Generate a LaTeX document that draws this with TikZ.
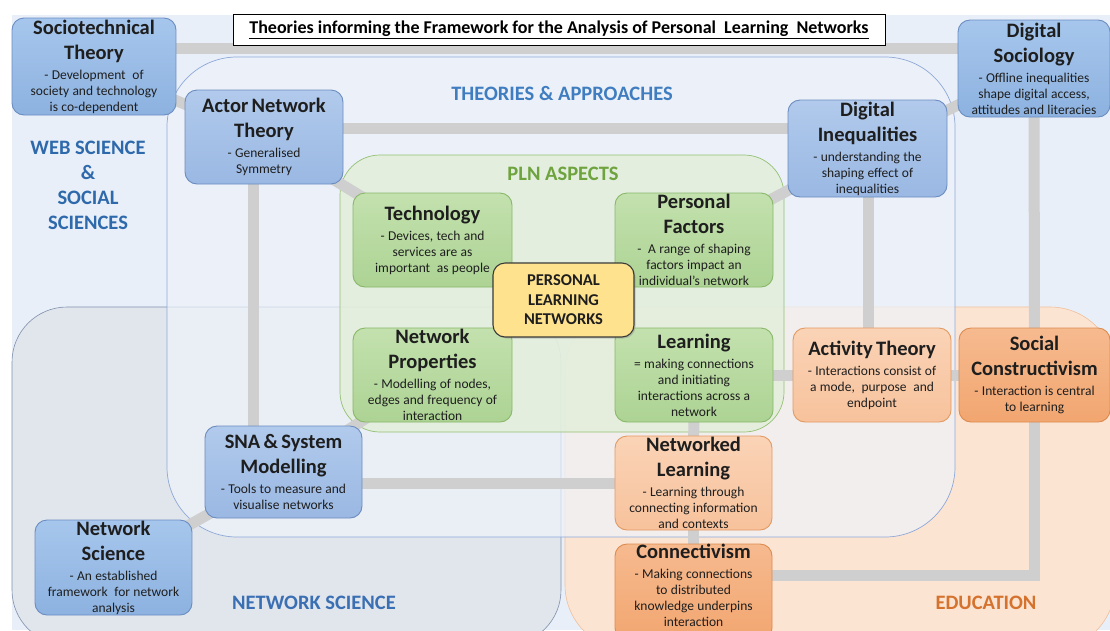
\documentclass[tikz,border=0pt]{standalone}
\usepackage{fontspec}
\setmainfont{Carlito}
\usetikzlibrary{fit,shadows}
\setlength{\parindent}{0pt}
\definecolor{webbg}{HTML}{E8EFF8}
\definecolor{nsfill}{HTML}{E1E5EC}
\definecolor{nsdraw}{HTML}{8090AC}
\definecolor{edufill}{HTML}{FCE4D3}
\definecolor{edudraw}{HTML}{F0C09C}
\definecolor{theofill}{HTML}{EEF3FA}
\definecolor{theodraw}{HTML}{8EA8D8}
\definecolor{plnrfill}{HTML}{E1EED7}
\definecolor{plnrdraw}{HTML}{93C073}
\definecolor{blueatop}{HTML}{A6C6EC}
\definecolor{blueabot}{HTML}{8DB2E0}
\definecolor{blueadraw}{HTML}{6A8DC2}
\definecolor{bluebtop}{HTML}{B1CAEC}
\definecolor{bluebbot}{HTML}{9AB8E3}
\definecolor{bluebdraw}{HTML}{6C8CC0}
\definecolor{greentop}{HTML}{C3E1AE}
\definecolor{greenbot}{HTML}{ADD394}
\definecolor{greendraw}{HTML}{88B868}
\definecolor{oratop}{HTML}{FAD3B6}
\definecolor{orabot}{HTML}{F7C29C}
\definecolor{oradraw}{HTML}{E39A62}
\definecolor{orbtop}{HTML}{F6BA8F}
\definecolor{orbbot}{HTML}{F2A670}
\definecolor{orbdraw}{HTML}{DB8B50}
\definecolor{plnfill}{HTML}{FFE28D}
\definecolor{plndraw}{HTML}{3A3A3A}
\definecolor{theolbl}{HTML}{3F7DC0}
\definecolor{plnlbl}{HTML}{6EA33E}
\definecolor{weblbl}{HTML}{2E69AC}
\definecolor{nslbl}{HTML}{3A6FB3}
\definecolor{edulbl}{HTML}{D4722E}
\definecolor{linkgray}{HTML}{CFCFCF}
\definecolor{textc}{HTML}{1E1E1E}
\newcommand\NT[1]{{\fontsize{20.5}{25}\selectfont\bfseries #1\par}}
\newcommand\NB[1]{{\fontsize{13.5}{16}\selectfont #1\par}}
\newcommand\NF[1]{{\fontsize{13.5}{20}\selectfont #1\par}}
\pgfdeclarelayer{regions}
\pgfdeclarelayer{links}
\pgfsetlayers{regions,links,main}
\begin{document}
\begin{tikzpicture}[x=1pt,y=-1pt,
  box/.style={rectangle, rounded corners=12pt, line width=0.9pt, inner sep=0pt},
  bluea/.style={box, draw=blueadraw, top color=blueatop, bottom color=blueabot},
  blueb/.style={box, draw=bluebdraw, top color=bluebtop, bottom color=bluebbot},
  greenbox/.style={box, draw=greendraw, top color=greentop, bottom color=greenbot},
  oralight/.style={box, draw=oradraw, top color=oratop, bottom color=orabot},
  oradark/.style={box, draw=orbdraw, top color=orbtop, bottom color=orbbot},
  plnbox/.style={box, draw=plndraw, fill=plnfill, line width=1.1pt,
    drop shadow={shadow xshift=1.5pt, shadow yshift=-1.5pt, opacity=0.35}},
  txt/.style={text width=170pt, align=center, inner sep=0pt, text=textc},
  link/.style={line width=11pt, draw=linkgray},
  lbl/.style={font=\fontsize{20.5}{25}\selectfont\bfseries, align=center, inner sep=0pt},
  ]
\useasboundingbox (0,0) rectangle (1110,630);

% ---------- nodes ----------
\node[bluea, fit={(12,18) (176,115)}] (soc) {};
\node[txt] (soct) at (soc.center) {\NT{Sociotechnical}\NT{Theory}\NF{- Development\ \ of}\NB{society and technology}\NB{is co-dependent}};

\node[blueb, fit={(185,90) (343,184)}] (ant) {};
\node[txt] (antt) at (ant.center) {\NT{Actor Network}\NT{Theory}\NF{- Generalised}\NB{Symmetry}};

\node[bluea, fit={(958,20) (1110,117)}] (dsoc) {};
\node[txt] (dsoct) at (dsoc.center) {\NT{Digital}\NT{Sociology}\NF{- Offline inequalities}\NB{shape digital access,}\NB{attitudes and literacies}};

\node[blueb, fit={(788,100) (947,197)}] (dineq) {};
\node[txt] (dineqt) at (dineq.center) {\NT{Digital}\NT{Inequalities}\NF{- understanding the}\NB{shaping effect of}\NB{inequalities}};

\node[greenbox, fit={(353,193) (512,287)}] (tech) {};
\node[txt] (techt) at (tech.center) {\NT{Technology}\NF{- Devices, tech and}\NB{services are as}\NB{important\ \ as people}};

\node[greenbox, fit={(615,193) (773,287)}] (pers) {};
\node[txt] (perst) at (pers.center) {\NT{Personal}\NT{Factors}\NF{-\ \ A range of shaping}\NB{factors impact an}\NB{individual’s network}};

\node[greenbox, fit={(353,328) (512,422)}] (netp) {};
\node[txt] (netpt) at (netp.center) {\NT{Network}\NT{Properties}\NF{- Modelling of nodes,}\NB{edges and frequency of}\NB{interaction}};

\node[greenbox, fit={(615,328) (773,422)}] (learn) {};
\node[txt] (learnt) at (learn.center) {\NT{Learning}\NF{= making connections}\NB{and initiating}\NB{interactions across a}\NB{network}};

\node[plnbox, fit={(493,263) (634,337)}] (pln) {};
\node[txt, font=\fontsize{16.5}{19.5}\selectfont\bfseries] (plnt) at (pln.center) {PERSONAL\\LEARNING\\NETWORKS};

\node[blueb, fit={(205,426) (362,518)}] (sna) {};
\node[txt] (snat) at (sna.center) {\NT{SNA \& System}\NT{Modelling}\NF{- Tools to measure and}\NB{visualise networks}};

\node[bluea, fit={(35,520) (192,615)}] (nsci) {};
\node[txt] (nscit) at (nsci.center) {\NT{Network}\NT{Science}\NF{- An established}\NB{framework\ \ for network}\NB{analysis}};

\node[oralight, fit={(615,436) (772,530)}] (netl) {};
\node[txt] (netlt) at (netl.center) {\NT{Networked}\NT{Learning}\NF{- Learning through}\NB{connecting information}\NB{and contexts}};

\node[oradark, fit={(615,544) (772,640)}] (cnv) {};
\node[txt] (cnvt) at ([yshift=6.5pt]cnv.center) {\NT{Connectivism}\NF{- Making connections}\NB{to distributed}\NB{knowledge underpins}\NB{interaction}};

\node[oralight, fit={(793,328) (951,422)}] (act) {};
\node[txt] (actt) at (act.center) {\NT{Activity Theory}\NF{- Interactions consist of}\NB{a mode,\ \ purpose\ \ and}\NB{endpoint}};

\node[oradark, fit={(959,328) (1110,422)}] (socc) {};
\node[txt] (socct) at (socc.center) {\NT{Social}\NT{Constructivism}\NF{- Interaction is central}\NB{to learning}};

% ---------- title ----------
\node[draw=black, line width=0.8pt, fill=white, minimum width=652pt, minimum height=31pt, inner sep=0pt] (title) at (559,29.5)
  {\fontsize{18}{20}\selectfont\bfseries\underline{Theories informing the Framework for the Analysis of Personal\ \ Learning\ \ Networks}};

% ---------- region labels ----------
\node[lbl, text=theolbl] (ltheo) at (562,93) {THEORIES \& APPROACHES};
\node[lbl, text=plnlbl] (lpln) at (563,174) {PLN ASPECTS};
\node[lbl, text=weblbl] (lweb) at (88,185.5) {WEB SCIENCE\\\&\\SOCIAL\\SCIENCES};
\node[lbl, text=nslbl] (lns) at (314,603) {NETWORK SCIENCE};
\node[lbl, text=edulbl] (ledu) at (986,603) {EDUCATION};

% ---------- connectors ----------
\begin{pgfonlayer}{links}
\coordinate (rowA) at (0,48);
\coordinate (rowB) at (0,128);
\coordinate (rowC) at (0,575);
\coordinate (colA) at (253,0);
\coordinate (colB) at (868,0);
\draw[link] (soc.east |- rowA) -- (dsoc.west |- rowA);
\draw[link] (soc.center) -- (ant.center);
\draw[link] (ant.east |- rowB) -- (dineq.west |- rowB);
\draw[link] (ant.center) -- (tech.center);
\draw[link] (dsoc.center) -- (dineq.center);
\draw[link] (dineq.center) -- (pers.center);
\draw[link] (colA |- ant.south) -- (colA |- sna.north);
\draw[link] (colB |- dineq.south) -- (colB |- act.north);
\draw[link] (dsoc.center) -- (socc.center);
\draw[link] (socc.center) -- (socc.center |- rowC) -- (cnv.east |- rowC);
\draw[link] (learn.center) -- (act.center);
\draw[link] (act.center) -- (socc.center);
\draw[link] (learn.center) -- (netl.center);
\draw[link] (netl.center) -- (cnv.center);
\draw[link] (sna.center |- netl.center) -- (netl.center);
\draw[link] (sna.center) -- (netp.center);
\draw[link] (sna.center) -- (nsci.center);
\end{pgfonlayer}

% ---------- regions ----------
\begin{pgfonlayer}{regions}
\fill[webbg] (12,15) rectangle (1110,630);
\draw[fill=nsfill, draw=nsdraw, line width=0.6pt, rounded corners=55pt] (12,307) rectangle (561,645);
\draw[fill=edufill, draw=edudraw, line width=0.6pt, rounded corners=65pt] (565,307) rectangle (1115,650);
\draw[fill=theofill, fill opacity=0.7, draw=theodraw, line width=0.7pt, rounded corners=70pt] (167,57) rectangle (955,537);
\draw[fill=plnrfill, fill opacity=0.75, draw=plnrdraw, line width=0.7pt, rounded corners=40pt] (340,155) rectangle (784,432);
\end{pgfonlayer}
\end{tikzpicture}
\end{document}
